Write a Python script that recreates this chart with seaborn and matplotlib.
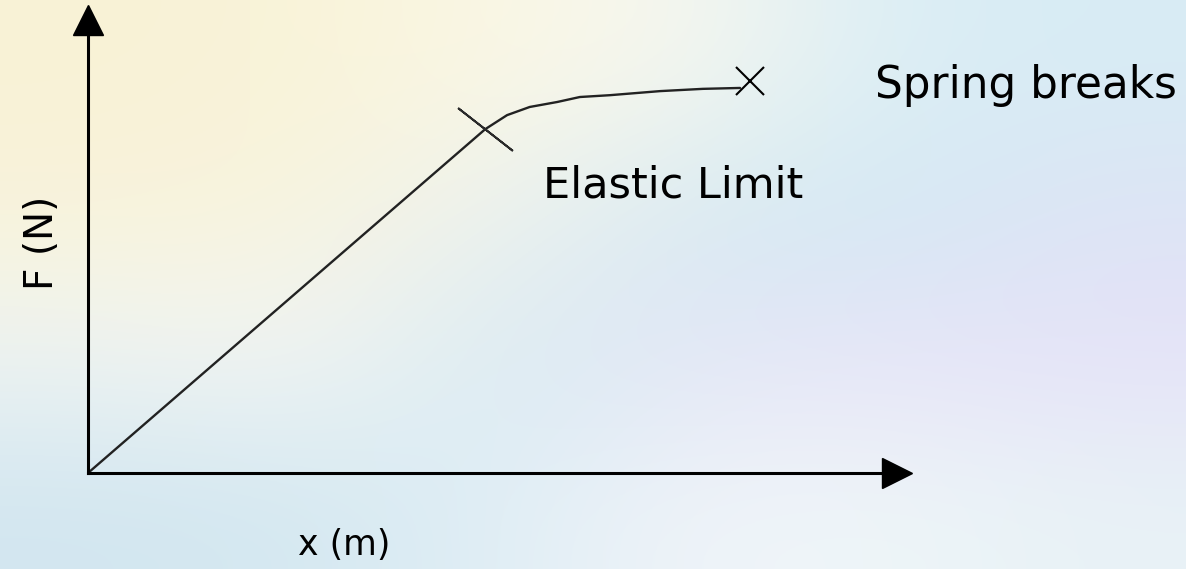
import matplotlib
matplotlib.use("Agg")
import matplotlib.pyplot as plt
from matplotlib.colors import to_rgb
import numpy as np
import seaborn as sns

# force / extension sketch (axes run 0..10)
extension = [0.0, 4.91, 5.18, 5.46, 5.80, 6.08, 6.45, 7.07, 7.60, 8.06]
force     = [0.0, 7.59, 7.90, 8.08, 8.19, 8.30, 8.34, 8.43, 8.48, 8.50]

limit_x, limit_f = [4.91], [7.59]
break_x, break_f = [8.18], [8.65]

x_label     = "x (m)"
y_label     = "F (N)"
limit_label = "Elastic Limit"
break_label = "Spring breaks"

W, H = 1186, 569

# pastel backdrop, colour stops top -> bottom, left -> right
BG = [
    ["#f8f2d6", "#f9f3d8", "#fbf7e4", "#f6f7f0", "#dbeef5", "#d8ecf4"],
    ["#f9f3da", "#f8f3de", "#eef3f0", "#d6eaf2", "#d3e9f3", "#dde4f5"],
    ["#eef4f4", "#f4f6f5", "#d8ebf2", "#e4e6f6", "#e8e4f8", "#e6e2f8"],
    ["#d2e6f0", "#d4e8f1", "#e0eef5", "#f0f4f9", "#eef6f8", "#e8f2f6"],
]


def _setup():
    sns.set_theme(style="white")
    plt.rcParams["font.family"] = ["DejaVu Sans"]
    plt.rcParams["text.color"] = "black"


def fx(px):
    return px / W


def fy(py):
    return 1 - py / H


_setup()
fig = plt.figure(figsize=(W / 100, H / 100), dpi=100)

bg = fig.add_axes([0, 0, 1, 1])
grid = np.array([[to_rgb(c) for c in row] for row in BG])
bg.imshow(grid, aspect="auto", interpolation="bicubic", extent=[0, 1, 0, 1])
bg.set_xlim(0, 1); bg.set_ylim(0, 1)
bg.axis("off")

ax = fig.add_axes([fx(88), fy(473), fx(897) - fx(88), fy(20) - fy(473)])
ax.patch.set_alpha(0)
ax.set_xlim(0, 10); ax.set_ylim(0, 10)
ax.set_xticks([]); ax.set_yticks([])
for side in ["top", "right"]:
    ax.spines[side].set_visible(False)
for side in ["left", "bottom"]:
    ax.spines[side].set_linewidth(2.2)
    ax.spines[side].set_color("black")

# arrow heads
ax.plot(1, 0, ">", color="black", ms=22, transform=ax.get_yaxis_transform(), clip_on=False)
ax.plot(0, 1, "^", color="black", ms=21, transform=ax.get_xaxis_transform(), clip_on=False)

sns.lineplot(x=extension, y=force, sort=False, color="#222222", lw=1.7, ax=ax)
ax.plot(limit_x, limit_f, ls="none", marker=(2, 2, 52), ms=50,
        mec="#2a2a2a", mew=1.4, clip_on=False)
ax.plot(break_x, break_f, ls="none", marker="x", ms=20,
        mec="black", mew=1.5, clip_on=False)

fig.text(fx(875), fy(98), break_label, fontsize=31.5, color="black", ha="left", va="baseline")
fig.text(fx(543), fy(197), limit_label, fontsize=31, color="black", ha="left", va="baseline")
fig.text(fx(42), fy(243), y_label, fontsize=28, color="black", rotation=90, ha="center", va="center")
fig.text(fx(298), fy(555), x_label, fontsize=25, color="black", ha="left", va="baseline")

fig.savefig("out.png", dpi=100, facecolor="white")
plt.close(fig)
